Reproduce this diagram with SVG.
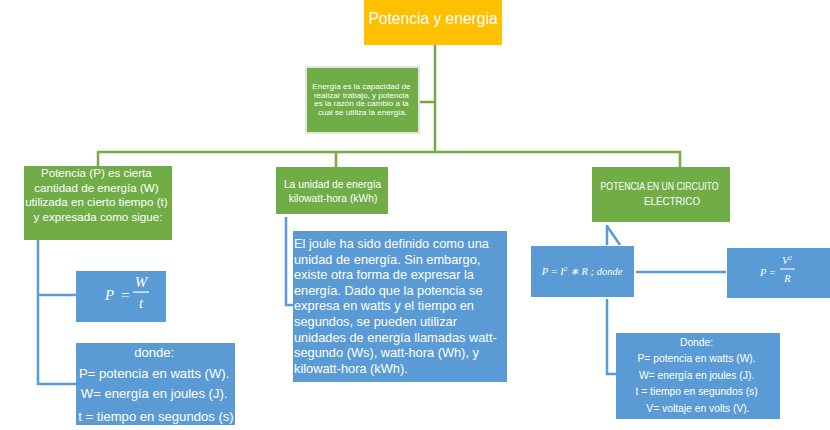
<svg xmlns="http://www.w3.org/2000/svg" width="830" height="430" viewBox="0 0 830 430">
<style>
.t{font-family:"Liberation Sans",Arial,sans-serif;fill:#fff}
.m{font-family:"Liberation Serif","Times New Roman",serif;font-style:italic;fill:#fff}
.g{fill:#70AD47}
.b{fill:#5B9BD5}
.cg{stroke:#70AD47;stroke-width:2.5;fill:none}
.cb{stroke:#5B9BD5;stroke-width:2.5;fill:none}
</style>
<rect width="830" height="430" fill="#fff"/>
<g id="connectors">
<path class="cg" d="M435 45V152M420 102H435M98 166V152H680V167M336 152V167"/>
<path class="cb" d="M38 240V384H76M38 295H76"/>
<path class="cb" d="M286 217V305H293"/>
<path class="cb" d="M607 225V245M607 226L620 245M607 299V374H616"/>
<path class="cb" d="M636 272H726" stroke-width="3"/>
</g>
<g id="title">
<rect x="364" y="0" width="138" height="45" fill="#FFC000"/>
<text class="t" x="433" y="24" font-size="15.6" text-anchor="middle">Potencia y energia</text>
</g>
<g id="energia">
<rect x="306" y="67" width="113" height="66" fill="#70AD47" stroke="#e3e3e3" stroke-width="2"/>
<text class="t" font-size="8.1" text-anchor="middle">
<tspan x="362.5" y="89">Energía es la capacidad de</tspan>
<tspan x="362.5" y="97.5">realizar trabajo, y potencia</tspan>
<tspan x="362.5" y="106">es la razón de cambio a la</tspan>
<tspan x="362.5" y="114.5">cual se utiliza la energía.</tspan>
</text>
</g>
<g id="potencia">
<rect class="g" x="24" y="166" width="148" height="74"/>
<text class="t" font-size="11.6" text-anchor="middle">
<tspan x="98" y="177">Potencia (P) es cierta</tspan>
<tspan x="98" y="191.5">cantidad de energía (W)</tspan>
<tspan x="98" y="206">utilizada en cierto tiempo (t)</tspan>
<tspan x="98" y="220.5">y expresada como sigue:</tspan>
</text>
</g>
<g id="formula-pwt">
<rect class="b" x="76" y="271" width="90" height="51"/>
<text class="m" x="105" y="300" font-size="15">P</text>
<text class="m" x="120" y="300" font-size="15" font-style="normal">=</text>
<text class="m" x="141" y="287" font-size="15" text-anchor="middle">W</text>
<rect x="133" y="291.5" width="16" height="1.2" fill="#fff"/>
<text class="m" x="141" y="308" font-size="15" text-anchor="middle">t</text>
</g>
<g id="donde-left">
<rect class="b" x="76" y="343" width="159" height="82"/>
<text class="t" font-size="13.1" text-anchor="middle">
<tspan x="156" y="357">donde:</tspan>
<tspan x="156" y="378">P= potencia en watts (W).</tspan>
<tspan x="156" y="398">W= energía en joules (J).</tspan>
<tspan x="156" y="421">t = tiempo en segundos (s)</tspan>
</text>
</g>
<g id="unidad">
<rect class="g" x="276" y="167" width="112" height="47"/>
<text class="t" font-size="10.3" text-anchor="middle">
<tspan x="334" y="188">La unidad de energía</tspan>
<tspan x="333" y="201.5">kilowatt-hora (kWh)</tspan>
</text>
</g>
<g id="joule">
<rect class="b" x="293" y="231" width="214" height="151"/>
<text class="t" font-size="12.8">
<tspan x="294" y="248">El joule ha sido definido como una</tspan>
<tspan x="294" y="263.6">unidad de energía. Sin embargo,</tspan>
<tspan x="294" y="279.2">existe otra forma de expresar la</tspan>
<tspan x="294" y="294.8">energía. Dado que la potencia se</tspan>
<tspan x="294" y="310.4">expresa en watts y el tiempo en</tspan>
<tspan x="294" y="326">segundos, se pueden utilizar</tspan>
<tspan x="294" y="341.6">unidades de energía llamadas watt-</tspan>
<tspan x="294" y="357.2">segundo (Ws), watt-hora (Wh), y</tspan>
<tspan x="294" y="372.8">kilowatt-hora (kWh).</tspan>
</text>
</g>
<g id="circuito">
<rect class="g" x="592" y="167" width="138" height="55"/>
<text class="t" font-size="10.4" text-anchor="middle">
<tspan x="661" y="190" textLength="118" lengthAdjust="spacingAndGlyphs">POTENCIA EN UN CIRCUITO</tspan>
<tspan x="672" y="205" textLength="56" lengthAdjust="spacingAndGlyphs">ELÉCTRICO</tspan>
</text>
</g>
<g id="formula-i2r">
<rect class="b" x="531" y="246" width="103" height="51"/>
<text class="m" x="582" y="275" font-size="10.5" text-anchor="middle">P = I<tspan font-size="7" dy="-4">2</tspan><tspan dy="4"> ∗ R ; donde</tspan></text>
</g>
<g id="formula-v2r">
<rect class="b" x="727" y="248" width="103" height="50"/>
<text class="m" x="760" y="276" font-size="10.5">P =</text>
<text class="m" x="787" y="264" font-size="10.5" text-anchor="middle">V<tspan font-size="7" dy="-4">2</tspan></text>
<rect x="780" y="268.5" width="15" height="1" fill="#fff"/>
<text class="m" x="787.5" y="282" font-size="10.5" text-anchor="middle">R</text>
</g>
<g id="donde-right">
<rect class="b" x="616" y="333" width="164" height="86"/>
<text class="t" font-size="10.3" text-anchor="middle">
<tspan x="698" y="345.5">Donde:</tspan>
<tspan x="698" y="362">P= potencia en watts (W).</tspan>
<tspan x="698" y="378.5">W= energía en joules (J).</tspan>
<tspan x="698" y="395">t = tiempo en segundos (s)</tspan>
<tspan x="698" y="411.5">V= voltaje en volts (V).</tspan>
</text>
</g>
</svg>
